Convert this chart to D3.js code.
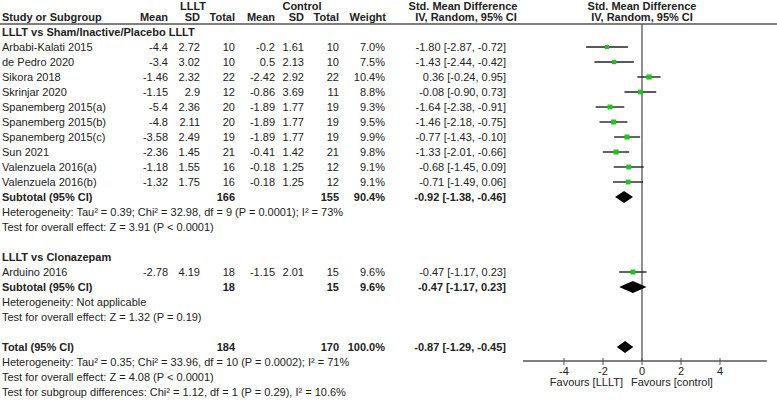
<!DOCTYPE html>
<meta charset="utf-8">
<style>
body { margin: 0; background: #fff; }
text { font-family: "Liberation Sans", Arial, sans-serif; font-size: 11px; fill: #222; }
.b { font-weight: bold; }
</style>
<svg width="777" height="400"></svg>
<script src="https://d3js.org/d3.v7.min.js"></script>
<script>

// ---- data ----
var studies = ["Arbabi-Kalati 2015", "de Pedro 2020", "Sikora 2018", "Skrinjar 2020",
  "Spanemberg 2015(a)", "Spanemberg 2015(b)", "Spanemberg 2015(c)", "Sun 2021",
  "Valenzuela 2016(a)", "Valenzuela 2016(b)", "Arduino 2016"];
var group = [1, 1, 1, 1, 1, 1, 1, 1, 1, 1, 2];
var llltMean = ["-4.4", "-3.4", "-1.46", "-1.15", "-5.4", "-4.8", "-3.58", "-2.36", "-1.18", "-1.32", "-2.78"];
var llltSD = ["2.72", "3.02", "2.32", "2.9", "2.36", "2.11", "2.49", "1.45", "1.55", "1.75", "4.19"];
var llltN = [10, 10, 22, 12, 20, 20, 19, 21, 16, 16, 18];
var ctrlMean = ["-0.2", "0.5", "-2.42", "-0.86", "-1.89", "-1.89", "-1.89", "-0.41", "-0.18", "-0.18", "-1.15"];
var ctrlSD = ["1.61", "2.13", "2.92", "3.69", "1.77", "1.77", "1.77", "1.42", "1.25", "1.25", "2.01"];
var ctrlN = [10, 10, 22, 11, 19, 19, 19, 21, 12, 12, 15];
var weight = [7.0, 7.5, 10.4, 8.8, 9.3, 9.5, 9.9, 9.8, 9.1, 9.1, 9.6];
var smd = [-1.80, -1.43, 0.36, -0.08, -1.64, -1.46, -0.77, -1.33, -0.68, -0.71, -0.47];
var lo = [-2.87, -2.44, -0.24, -0.90, -2.38, -2.18, -1.43, -2.01, -1.45, -1.49, -1.17];
var hi = [-0.72, -0.42, 0.95, 0.73, -0.91, -0.75, -0.10, -0.66, 0.09, 0.06, 0.23];

var pooledLabel = ["Subtotal (95% CI)", "Subtotal (95% CI)", "Total (95% CI)"];
var pooledN1 = [166, 18, 184];
var pooledN2 = [155, 15, 170];
var pooledW = [90.4, 9.6, 100.0];
var pooledEst = [-0.92, -0.47, -0.87];
var pooledLo = [-1.38, -1.17, -1.29];
var pooledHi = [-0.46, 0.23, -0.45];

var groupTitles = ["LLLT vs Sham/Inactive/Placebo LLLT", "LLLT vs Clonazepam"];
var notes1 = ["Heterogeneity: Tau\u00b2 = 0.39; Chi\u00b2 = 32.98, df = 9 (P = 0.0001); I\u00b2 = 73%",
  "Test for overall effect: Z = 3.91 (P < 0.0001)"];
var notes2 = ["Heterogeneity: Not applicable", "Test for overall effect: Z = 1.32 (P = 0.19)"];
var notesTotal = ["Heterogeneity: Tau\u00b2 = 0.35; Chi\u00b2 = 33.96, df = 10 (P = 0.0002); I\u00b2 = 71%",
  "Test for overall effect: Z = 4.08 (P < 0.0001)",
  "Test for subgroup differences: Chi\u00b2 = 1.12, df = 1 (P = 0.29), I\u00b2 = 10.6%"];
var ticks = [-4, -2, 0, 2, 4];

// ---- layout ----
var svg = d3.select("svg");
var x = d3.scaleLinear().domain([-4, 4]).range([564, 720]);
var y = d3.scaleLinear().domain([0, 1]).range([47, 62]); // row index -> centre
var loc = d3.formatLocale({decimal: ".", thousands: ",", grouping: [3], currency: ["", ""], minus: "-"});
var fmt = loc.format(".2f"), pct = loc.format(".1f");

function ciText(e, l, h) { return fmt(e) + " [" + fmt(l) + ", " + fmt(h) + "]"; }

// row indices
var studyRow = studies.map(function(d, i) { return group[i] == 1 ? i : i + 5; });
var pooledRow = [10, 16, 20];

function txt(xp, row, s, anchor, bold) {
  return svg.append("text").attr("x", xp).attr("y", y(row) + 4)
    .attr("text-anchor", anchor || "start")
    .attr("class", bold ? "b" : null).text(s);
}

// headers
[[193, "LLLT"], [302, "Control"], [463, "Std. Mean Difference"], [642, "Std. Mean Difference"]]
  .forEach(function(h) { txt(h[0], -3, h[1], "middle", true).attr("y", 10); });
txt(2, -2, "Study or Subgroup", "start", true);
[[168, "Mean"], [200, "SD"], [235, "Total"], [275, "Mean"], [304, "SD"], [339, "Total"], [386, "Weight"]]
  .forEach(function(h) { txt(h[0], -2, h[1], "end", true); });
txt(466, -2, "IV, Random, 95% CI", "middle", true);
txt(642, -2, "IV, Random, 95% CI", "middle", true);

svg.append("line").attr("x1", 0).attr("x2", 777).attr("y1", 24).attr("y2", 24)
  .attr("stroke", "#555").attr("stroke-width", 1.3);

// group titles
txt(2, -1, groupTitles[0], "start", true);
txt(2, 14, groupTitles[1], "start", true);

// study rows
studies.forEach(function(s, i) {
  var r = studyRow[i];
  txt(2, r, s);
  txt(168, r, llltMean[i], "end");
  txt(200, r, llltSD[i], "end");
  txt(235, r, llltN[i], "end");
  txt(275, r, ctrlMean[i], "end");
  txt(304, r, ctrlSD[i], "end");
  txt(339, r, ctrlN[i], "end");
  txt(385, r, pct(weight[i]) + "%", "end");
  txt(506, r, ciText(smd[i], lo[i], hi[i]), "end");
});

// pooled rows
pooledLabel.forEach(function(s, i) {
  var r = pooledRow[i];
  txt(2, r, s, "start", true);
  txt(235, r, pooledN1[i], "end", true);
  txt(339, r, pooledN2[i], "end", true);
  txt(385, r, pct(pooledW[i]) + "%", "end", true);
  txt(506, r, ciText(pooledEst[i], pooledLo[i], pooledHi[i]), "end", true);
});

notes1.forEach(function(s, i) { txt(2, 11 + i, s); });
notes2.forEach(function(s, i) { txt(2, 17 + i, s); });
notesTotal.forEach(function(s, i) { txt(2, 21 + i, s); });

// ---- forest plot ----
var axisY = 361;
svg.append("line").attr("x1", x(0)).attr("x2", x(0)).attr("y1", 24).attr("y2", axisY)
  .attr("stroke", "#555").attr("stroke-width", 1.3);

svg.append("g").selectAll("line").data(studies).enter().append("line")
  .attr("x1", function(d, i) { return x(lo[i]); })
  .attr("x2", function(d, i) { return x(hi[i]); })
  .attr("y1", function(d, i) { return y(studyRow[i]); })
  .attr("y2", function(d, i) { return y(studyRow[i]); })
  .attr("stroke", "#222").attr("stroke-width", 1.4);

svg.append("g").selectAll("rect").data(studies).enter().append("rect")
  .attr("width", function(d, i) { return Math.sqrt(weight[i]) * 1.6; })
  .attr("height", function(d, i) { return Math.sqrt(weight[i]) * 1.6; })
  .attr("x", function(d, i) { return x(smd[i]) - Math.sqrt(weight[i]) * 0.8; })
  .attr("y", function(d, i) { return y(studyRow[i]) - Math.sqrt(weight[i]) * 0.8; })
  .attr("fill", "#19c919");

svg.append("g").selectAll("path").data(pooledRow).enter().append("path")
  .attr("d", function(r, i) {
    var cy = y(r);
    return "M" + x(pooledLo[i]) + "," + cy + "L" + x(pooledEst[i]) + "," + (cy - 6) +
      "L" + x(pooledHi[i]) + "," + cy + "L" + x(pooledEst[i]) + "," + (cy + 6) + "Z";
  })
  .attr("fill", "#000");

// axis
svg.append("line").attr("x1", x(-6.1)).attr("x2", x(6.4)).attr("y1", axisY).attr("y2", axisY)
  .attr("stroke", "#555").attr("stroke-width", 1.3);
var tg = svg.append("g").selectAll("g").data(ticks).enter().append("g");
tg.append("line").attr("x1", x).attr("x2", x).attr("y1", axisY - 3).attr("y2", axisY + 4)
  .attr("stroke", "#555").attr("stroke-width", 1);
tg.append("text").attr("x", x).attr("y", axisY + 14).attr("text-anchor", "middle")
  .text(function(d) { return d; });

svg.append("text").attr("x", 623).attr("y", axisY + 25).attr("text-anchor", "end").text("Favours [LLLT]");
svg.append("text").attr("x", 631).attr("y", axisY + 25).text("Favours [control]");

</script>
